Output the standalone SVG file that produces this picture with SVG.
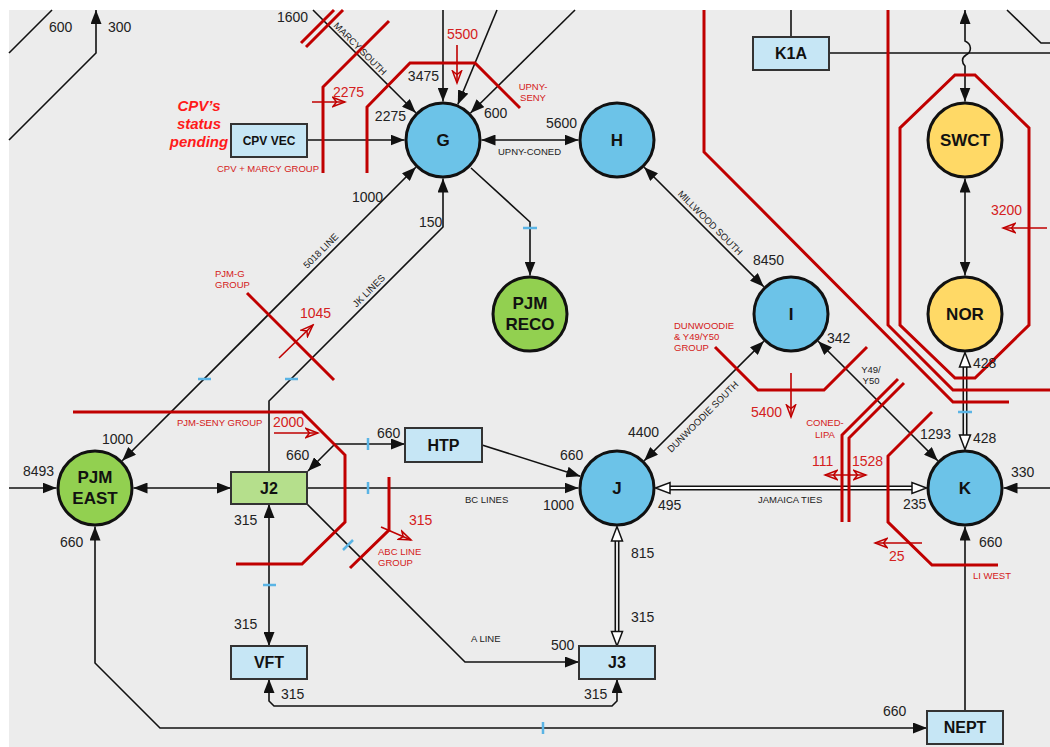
<svg xmlns="http://www.w3.org/2000/svg" width="1050" height="747" viewBox="0 0 1050 747">
<style>
.c{fill:none;stroke:#111;stroke-width:1.6}
.rl{fill:none;stroke:#c00000;stroke-width:3}
.ra{fill:none;stroke:#c00000;stroke-width:1.6}
.tk{stroke:#5ab4e5;stroke-width:2.5}
.n{font-family:"Liberation Sans",Arial,sans-serif;font-size:14px;fill:#222}
.r{font-family:"Liberation Sans",Arial,sans-serif;font-size:14px;fill:#d42020}
.s{font-family:"Liberation Sans",Arial,sans-serif;font-size:9.5px;fill:#222}
.rs{font-family:"Liberation Sans",Arial,sans-serif;font-size:9.5px;fill:#d42020}
.nl{font-family:"Liberation Sans",Arial,sans-serif;font-size:17px;font-weight:bold;fill:#111;text-anchor:middle}
.bl{font-family:"Liberation Sans",Arial,sans-serif;font-size:16px;font-weight:bold;fill:#111;text-anchor:middle}
.bs{font-family:"Liberation Sans",Arial,sans-serif;font-size:12px;font-weight:bold;fill:#111;text-anchor:middle}
.e{text-anchor:end}
.m{text-anchor:middle}
.blue{fill:#6cc3e8;stroke:#111;stroke-width:3}
.grn{fill:#92d050;stroke:#111;stroke-width:3}
.yel{fill:#ffd966;stroke:#111;stroke-width:3}
.box{fill:#c6e6f5;stroke:#333;stroke-width:2}
.gbox{fill:#b5df8c;stroke:#333;stroke-width:2}
.dl{stroke:#111;stroke-width:5}
.dw{stroke:#fff;stroke-width:1.8}
.ho{fill:#fff;stroke:#111;stroke-width:1.5}
</style>
<defs>
<marker id="ah" markerUnits="userSpaceOnUse" markerWidth="14" markerHeight="11" refX="14" refY="5.5" orient="auto-start-reverse" viewBox="0 0 14 11"><path d="M0,0 L14,5.5 L0,11 z" fill="#111"/></marker>
<marker id="ro" markerUnits="userSpaceOnUse" markerWidth="15" markerHeight="12" refX="13" refY="6" orient="auto-start-reverse" viewBox="0 0 15 12"><path d="M1,1.5 L13,6 L1,10.5 L4.5,6 Z" fill="none" stroke="#c00000" stroke-width="1.5"/></marker>
</defs>
<rect width="1050" height="747" fill="#fff"/>
<rect x="9" y="10" width="1041" height="737" fill="#ececec"/>

<g id="connectors">
<path class="c" d="M9,53 L52,10"/>
<path class="c" d="M9,140 L96,53 L96,10" marker-end="url(#ah)"/>
<path class="c" d="M313,10 L415.8,112.8" marker-end="url(#ah)"/>
<path class="c" d="M443,10 L443,101.5" marker-end="url(#ah)"/>
<path class="c" d="M497,10 L457.8,104.5" marker-end="url(#ah)"/>
<path class="c" d="M575,10 L470.5,113" marker-end="url(#ah)"/>
<path class="c" d="M307,140 L404.5,140" marker-end="url(#ah)"/>
<path class="c" d="M481.5,140 L578.5,140" marker-start="url(#ah)" marker-end="url(#ah)"/>
<path class="c" d="M471,168 L530,222 L530,275.5" marker-end="url(#ah)"/>
<path class="c" d="M122.2,460.8 L415.8,167.2" marker-start="url(#ah)" marker-end="url(#ah)"/>
<path class="c" d="M269,472 L269,401 L443,227 L443,178.5" marker-end="url(#ah)"/>
<path class="c" d="M644.2,167.2 L763.8,286.8" marker-start="url(#ah)" marker-end="url(#ah)"/>
<path class="c" d="M644.2,460.8 L763.8,341.2" marker-start="url(#ah)" marker-end="url(#ah)"/>
<path class="c" d="M818.2,341.2 L937.8,460.8" marker-start="url(#ah)" marker-end="url(#ah)"/>
<path class="c" d="M965,178.5 L965,275.5" marker-start="url(#ah)" marker-end="url(#ah)"/>
<path class="c" d="M965,10 L965,41 C972,44 972,52 966,55 C961,58 962,63 965,66 L965,101.5" marker-start="url(#ah)" marker-end="url(#ah)"/>
<path class="c" d="M791,37 L791,10"/>
<path class="c" d="M829,53 L1050,53"/>
<path class="c" d="M1007,10 L1041,43 L1050,43"/>
<path class="c" d="M9,488 L56.5,488" marker-end="url(#ah)"/>
<path class="c" d="M133.5,488 L231,488" marker-start="url(#ah)" marker-end="url(#ah)"/>
<path class="c" d="M308,471 L335,444 L405,444" marker-start="url(#ah)" marker-end="url(#ah)"/>
<path class="c" d="M482,445 L580.3,476.3" marker-end="url(#ah)"/>
<path class="c" d="M307,488 L578.5,488" marker-end="url(#ah)"/>
<path class="c" d="M307,504 L465,662 L579,662" marker-end="url(#ah)"/>
<path class="c" d="M269,504 L269,646" marker-start="url(#ah)" marker-end="url(#ah)"/>
<path class="c" d="M269,679 L269,701 L274,706 L612,706 L617,701 L617,679" marker-start="url(#ah)" marker-end="url(#ah)"/>
<path class="c" d="M95,526.5 L95,663 L160,728 L927,728" marker-start="url(#ah)" marker-end="url(#ah)"/>
<path class="c" d="M965,711 L965,526.5" marker-end="url(#ah)"/>
<path class="c" d="M1050,488 L1003.5,488" marker-end="url(#ah)"/>
<line class="dl" x1="669" y1="488" x2="913" y2="488"/>
<line class="dw" x1="669" y1="488" x2="913" y2="488"/>
<polygon class="ho" points="655.5,488 670,482.5 670,493.5"/>
<polygon class="ho" points="926.5,488 912,482.5 912,493.5"/>
<line class="dl" x1="617" y1="540" x2="617" y2="632.5"/>
<line class="dw" x1="617" y1="540" x2="617" y2="632.5"/>
<polygon class="ho" points="617,526.5 611.5,541 622.5,541"/>
<polygon class="ho" points="617,646 611.5,631.5 622.5,631.5"/>
<line class="dl" x1="965" y1="366" x2="965" y2="436"/>
<line class="dw" x1="965" y1="366" x2="965" y2="436"/>
<polygon class="ho" points="965,352.5 959.5,367 970.5,367"/>
<polygon class="ho" points="965,449.5 959.5,435 970.5,435"/>
<line class="tk" x1="523" y1="228" x2="537" y2="228"/>
<line class="tk" x1="198" y1="379" x2="211" y2="379"/>
<line class="tk" x1="285" y1="379" x2="298" y2="379"/>
<line class="tk" x1="368" y1="438" x2="368" y2="450"/>
<line class="tk" x1="368" y1="482" x2="368" y2="494"/>
<line class="tk" x1="343" y1="550" x2="353" y2="540"/>
<line class="tk" x1="263" y1="585" x2="276" y2="585"/>
<line class="tk" x1="543" y1="722" x2="543" y2="734"/>
<line class="tk" x1="958" y1="412" x2="972" y2="412"/>
</g>

<g id="interfaces">
<path class="rl" d="M301,43 L334,10"/>
<path class="rl" d="M306,47 L343,10"/>
<path class="rl" d="M323,173 L323,87 L389,21"/>
<path class="rl" d="M367,173 L367,107 L410,63 L475,63 L520,108"/>
<path class="rl" d="M247,293 L334,380"/>
<path class="rl" d="M73,412 L302,412 L345,455 L345,522 L302,564 L236,564"/>
<path class="rl" d="M389,477 L389,530 L350,568"/>
<path class="rl" d="M715,347 L758,390 L824,390 L867,347"/>
<path class="rl" d="M842,522 L842,435 L898,379"/>
<path class="rl" d="M849,522 L849,438 L904,383"/>
<path class="rl" d="M932,412 L888,456 L888,522 L932,565 L998,565"/>
<path class="rl" d="M704,10 L704,152 L953,402 L1009,402"/>
<path class="rl" d="M888,10 L888,325 L953,390 L1050,390"/>
<path class="rl" d="M955,75 L975,75 L1029,128 L1029,325 L975,378 L955,378 L900,325 L900,128 Z"/>
<path class="ra" d="M312,102 L345,102" marker-end="url(#ro)"/>
<path class="ra" d="M457,45 L457,83" marker-end="url(#ro)"/>
<path class="ra" d="M279,358 L313,325" marker-end="url(#ro)"/>
<path class="ra" d="M274,433 L318,433" marker-end="url(#ro)"/>
<path class="ra" d="M381,527 L411,540" marker-end="url(#ro)"/>
<path class="ra" d="M791,373 L791,417" marker-end="url(#ro)"/>
<path class="ra" d="M825,475 L866,475" marker-start="url(#ro)" marker-end="url(#ro)"/>
<path class="ra" d="M922,543 L875,543" marker-end="url(#ro)"/>
<path class="ra" d="M1047,228 L1003,228" marker-end="url(#ro)"/>
</g>

<g id="labels">
<text class="n" x="49" y="32">600</text>
<text class="n" x="108" y="32">300</text>
<text class="n" x="277" y="22">1600</text>
<text class="n e" x="439" y="81">3475</text>
<text class="n e" x="406" y="121">2275</text>
<text class="n" x="484" y="118">600</text>
<text class="n" x="546" y="128">5600</text>
<text class="n" x="352" y="202">1000</text>
<text class="n" x="419" y="227">150</text>
<text class="n" x="102" y="444">1000</text>
<text class="n" x="23" y="476">8493</text>
<text class="n" x="286" y="460">660</text>
<text class="n" x="377" y="438">660</text>
<text class="n" x="560" y="460">660</text>
<text class="n" x="628" y="437">4400</text>
<text class="n" x="543" y="510">1000</text>
<text class="n" x="658" y="510">495</text>
<text class="n" x="234" y="525">315</text>
<text class="n" x="234" y="629">315</text>
<text class="n" x="281" y="699">315</text>
<text class="n" x="584" y="699">315</text>
<text class="n" x="551" y="650">500</text>
<text class="n" x="631" y="558">815</text>
<text class="n" x="631" y="622">315</text>
<text class="n" x="60" y="547">660</text>
<text class="n" x="883" y="716">660</text>
<text class="n" x="979" y="547">660</text>
<text class="n" x="1011" y="477">330</text>
<text class="n" x="903" y="509">235</text>
<text class="n" x="920" y="439">1293</text>
<text class="n" x="973" y="368">428</text>
<text class="n" x="973" y="443">428</text>
<text class="n" x="827" y="343">342</text>
<text class="n" x="753" y="265">8450</text>

<text class="r" x="333" y="97">2275</text>
<text class="r" x="447" y="39">5500</text>
<text class="r" x="300" y="318">1045</text>
<text class="r" x="273" y="427">2000</text>
<text class="r" x="409" y="525">315</text>
<text class="r" x="751" y="417">5400</text>
<text class="r" x="812" y="466">111</text>
<text class="r" x="852" y="466">1528</text>
<text class="r" x="889" y="561">25</text>
<text class="r" x="991" y="215">3200</text>

<text class="rs" x="217" y="172">CPV + MARCY GROUP</text>
<text class="rs m" x="533" y="90">UPNY-</text>
<text class="rs m" x="533" y="101">SENY</text>
<text class="rs" x="215" y="277">PJM-G</text>
<text class="rs" x="215" y="288">GROUP</text>
<text class="rs" x="177" y="426">PJM-SENY GROUP</text>
<text class="rs" x="378" y="555">ABC LINE</text>
<text class="rs" x="378" y="566">GROUP</text>
<text class="rs" x="674" y="329">DUNWOODIE</text>
<text class="rs" x="674" y="340">&amp; Y49/Y50</text>
<text class="rs" x="674" y="351">GROUP</text>
<text class="rs m" x="825" y="426">CONED-</text>
<text class="rs m" x="825" y="438">LIPA</text>
<text class="rs" x="973" y="579">LI WEST</text>

<text class="s" x="498" y="155">UPNY-CONED</text>
<text class="s" x="465" y="503">BC LINES</text>
<text class="s" x="471" y="642">A LINE</text>
<text class="s" x="758" y="503">JAMAICA TIES</text>
<text class="s m" x="871" y="373">Y49/</text>
<text class="s m" x="871" y="384">Y50</text>
<text class="s m" x="360" y="52" transform="rotate(45 360 49)">MARCY SOUTH</text>
<text class="s m" x="321" y="254" transform="rotate(-45 321 251)">5018 LINE</text>
<text class="s m" x="369" y="294" transform="rotate(-45 369 291)">JK LINES</text>
<text class="s m" x="710" y="226" transform="rotate(45 710 223)">MILLWOOD SOUTH</text>
<text class="s m" x="703" y="420" transform="rotate(-45 703 417)">DUNWOODIE SOUTH</text>

<text font-family="Liberation Sans, Arial, sans-serif" font-size="15" font-weight="bold" font-style="italic" fill="#ff1a1a" text-anchor="middle"><tspan x="199" y="111">CPV’s</tspan><tspan x="199" y="129">status</tspan><tspan x="199" y="147">pending</tspan></text>
</g>

<g id="node-G"><circle class="blue" cx="443" cy="140" r="37"/><text class="nl" x="443" y="146">G</text></g>
<g id="node-H"><circle class="blue" cx="617" cy="140" r="37"/><text class="nl" x="617" y="146">H</text></g>
<g id="node-PJMRECO"><circle class="grn" cx="530" cy="314" r="37"/><text class="nl" x="530" y="309">PJM</text><text class="nl" x="530" y="330">RECO</text></g>
<g id="node-I"><circle class="blue" cx="791" cy="314" r="37"/><text class="nl" x="791" y="320">I</text></g>
<g id="node-SWCT"><circle class="yel" cx="965" cy="140" r="37"/><text class="nl" x="965" y="146">SWCT</text></g>
<g id="node-NOR"><circle class="yel" cx="965" cy="314" r="37"/><text class="nl" x="965" y="320">NOR</text></g>
<g id="node-K"><circle class="blue" cx="965" cy="488" r="37"/><text class="nl" x="965" y="494">K</text></g>
<g id="node-J"><circle class="blue" cx="617" cy="488" r="37"/><text class="nl" x="617" y="494">J</text></g>
<g id="node-PJMEAST"><circle class="grn" cx="95" cy="488" r="37"/><text class="nl" x="95" y="483">PJM</text><text class="nl" x="95" y="504">EAST</text></g>
<g id="node-CPVVEC"><rect class="box" x="231" y="124" width="76" height="33"/><text class="bs" x="269" y="144.5">CPV VEC</text></g>
<g id="node-K1A"><rect class="box" x="753" y="37" width="76" height="33"/><text class="bl" x="791" y="59">K1A</text></g>
<g id="node-HTP"><rect class="box" x="405" y="428" width="77" height="34"/><text class="bl" x="443.5" y="451">HTP</text></g>
<g id="node-J2"><rect class="gbox" x="231" y="472" width="76" height="32"/><text class="bl" x="269" y="494">J2</text></g>
<g id="node-VFT"><rect class="box" x="231" y="646" width="76" height="33"/><text class="bl" x="269" y="668">VFT</text></g>
<g id="node-J3"><rect class="box" x="579" y="646" width="76" height="33"/><text class="bl" x="617" y="668">J3</text></g>
<g id="node-NEPT"><rect class="box" x="927" y="711" width="76" height="33"/><text class="bl" x="965" y="733">NEPT</text></g>
</svg>
